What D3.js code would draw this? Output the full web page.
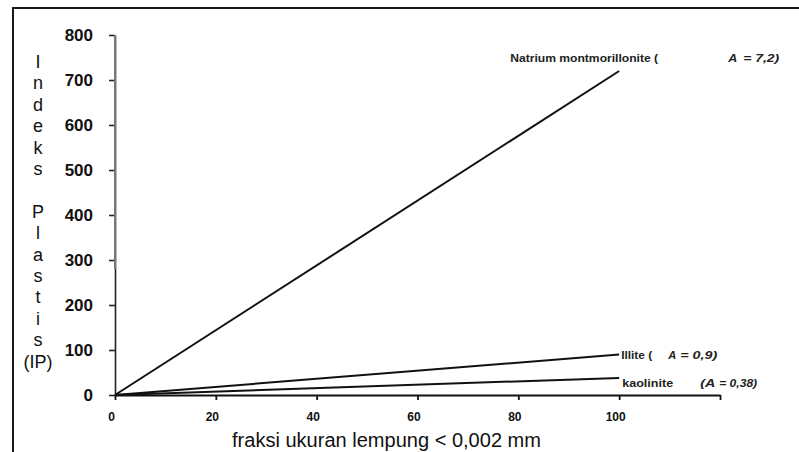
<!DOCTYPE html>
<html>
<head>
<meta charset="utf-8">
<script src="https://cdn.jsdelivr.net/npm/d3@7"></script>
<style>
  body { margin: 0; background: #fff; }
  svg { display: block; font-family: Arial, "Liberation Sans", sans-serif; }
  .axis text { font-family: Arial, "Liberation Sans", sans-serif; fill: #111; }
  .lbl { font-weight: bold; fill: #222; }
</style>
</head>
<body>
<div id="chart"></div>
<script>
const width = 799, height = 452;

// data
const xVals = [0, 100];
const natriumVals = [0, 720];
const illiteVals = [0, 90];
const kaoliniteVals = [0, 38];
const xTicks = [0, 20, 40, 60, 80, 100, 120];
const xTickLabels = ['0', '20', '40', '60', '80', '100', ''];
const yTicks = [0, 100, 200, 300, 400, 500, 600, 700, 800];
const yLetters = ['I', 'n', 'd', 'e', 'k', 's', '', 'P', 'l', 'a', 's', 't', 'i', 's', '(IP)'];
const xTitle = 'fraksi ukuran lempung < 0,002 mm';

const series = [
    {name: 'Natrium montmorillonite (', a: 'A', rest: '= 7,2)', vals: natriumVals},
    {name: 'Illite (', a: 'A', rest: '= 0,9)', vals: illiteVals},
    {name: 'kaolinite', a: '(A', rest: '= 0,38)', vals: kaoliniteVals}
];

// label placement relative to the end of each line
const labelPos = [
    {dx: -109, dy: -13, len: 148, ax: 218, alen: 9, rx: 233, rlen: 36},
    {dx: 2, dy: 0, len: 31, ax: 47, alen: 8, rx: 59, rlen: 37},
    {dx: 3, dy: 5, len: 51, ax: 78, alen: 15, rx: 97, rlen: 38}
];

const xScale = d3.scaleLinear().domain([0, 120]).range([115, 720]);
const yScale = d3.scaleLinear().domain([0, 800]).range([395, 35]);

const svg = d3.select('#chart').append('svg')
    .attr('width', width)
    .attr('height', height);

// frame
svg.append('rect')
    .attr('x', 13).attr('y', 8)
    .attr('width', 800).attr('height', 470)
    .attr('fill', 'none')
    .attr('stroke', '#000')
    .attr('stroke-width', 1.8);

function drawYAxis() {
    let g = svg.append('g')
        .attr('class', 'axis')
        .attr('transform', 'translate(' + xScale(0) + ',0)')
        .call(d3.axisLeft(yScale).tickValues(yTicks).tickSize(6).tickSizeOuter(0).tickPadding(16));
    g.selectAll('text').style('font-size', '17px').style('font-weight', 'bold');
    g.selectAll('line, path').attr('stroke', '#222').attr('stroke-width', 1.6);
    // upper part of the axis is grey in the original
    g.append('line')
        .attr('x1', 0).attr('x2', 0)
        .attr('y1', yScale(800)).attr('y2', yScale(280))
        .attr('stroke', '#777').attr('stroke-width', 2);
}

function drawXAxis() {
    let g = svg.append('g')
        .attr('class', 'axis')
        .attr('transform', 'translate(0,' + yScale(0) + ')')
        .call(d3.axisBottom(xScale).tickValues(xTicks).tickSize(5).tickSizeOuter(0).tickPadding(12)
            .tickFormat((d, i) => xTickLabels[i]));
    g.selectAll('text').style('font-size', '12px').style('font-weight', 'bold').attr('dx', -4);
    g.selectAll('line, path').attr('stroke', '#111').attr('stroke-width', 1.8);
}

function drawLines() {
    let line = d3.line()
        .x((d, i) => xScale(xVals[i]))
        .y(d => yScale(d));
    svg.append('g').selectAll('path')
        .data(series)
        .enter()
        .append('path')
        .attr('d', d => line(d.vals))
        .attr('fill', 'none')
        .attr('stroke', '#111')
        .attr('stroke-width', 2);
}

function drawLabels() {
    series.forEach(function(s, i) {
        let p = labelPos[i];
        let x0 = xScale(xVals[1]) + p.dx;
        let y0 = yScale(s.vals[1]) + p.dy + 4;
        svg.append('text').attr('class', 'lbl')
            .attr('x', x0).attr('y', y0)
            .attr('font-size', 11)
            .attr('textLength', p.len).attr('lengthAdjust', 'spacingAndGlyphs')
            .text(s.name);
        svg.append('text').attr('class', 'lbl')
            .attr('x', x0 + p.ax).attr('y', y0)
            .attr('font-size', 11).attr('font-style', 'italic')
            .attr('textLength', p.alen).attr('lengthAdjust', 'spacingAndGlyphs')
            .text(s.a);
        svg.append('text').attr('class', 'lbl')
            .attr('x', x0 + p.rx).attr('y', y0)
            .attr('font-size', 11).attr('font-style', 'italic')
            .attr('textLength', p.rlen).attr('lengthAdjust', 'spacingAndGlyphs')
            .text(s.rest);
    });
}

function drawTitles() {
    let t = svg.append('text')
        .attr('x', 38).attr('y', 68)
        .attr('text-anchor', 'middle')
        .attr('font-size', 18)
        .attr('fill', '#111');
    let prevBlank = 0;
    yLetters.forEach(function(ch, i) {
        if (ch === '') { prevBlank = 1; return; }
        t.append('tspan')
            .attr('x', 38)
            .attr('dy', i === 0 ? 0 : 21.4 * (1 + prevBlank))
            .text(ch);
        prevBlank = 0;
    });
    svg.append('text')
        .attr('x', 232).attr('y', 447)
        .attr('font-size', 20)
        .attr('fill', '#111')
        .attr('textLength', 309).attr('lengthAdjust', 'spacingAndGlyphs')
        .text(xTitle);
}

drawLines();
drawYAxis();
drawXAxis();
drawLabels();
drawTitles();
</script>
</body>
</html>
